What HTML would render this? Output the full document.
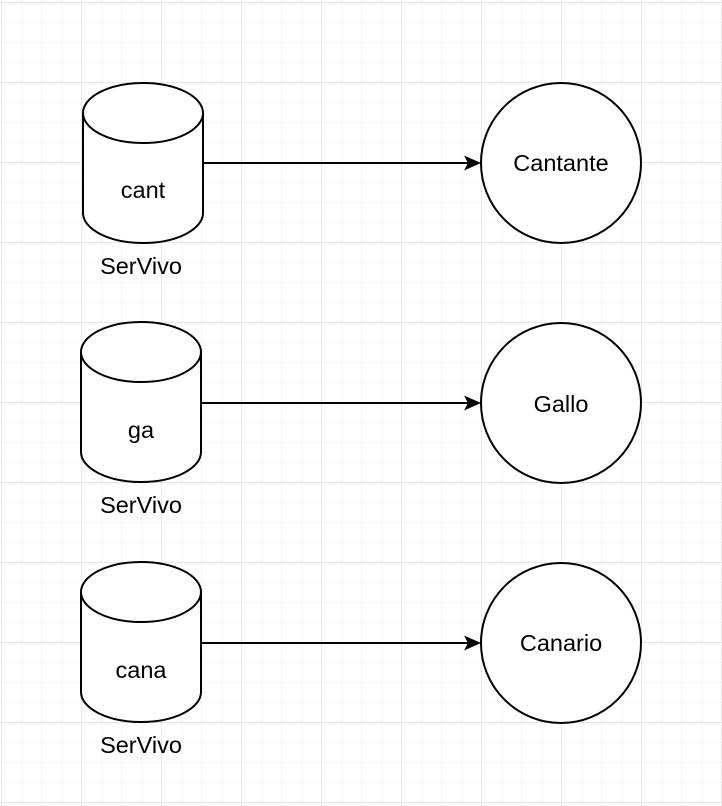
<!DOCTYPE html>
<html><head><style>
html,body{margin:0;padding:0;background:#fff}
svg{display:block}
text{font-family:"Liberation Sans",Helvetica,Arial,sans-serif;font-size:23.5px;fill:#000}
</style></head><body>
<svg width="722" height="806" xmlns="http://www.w3.org/2000/svg">
<defs>
<pattern id="minor" width="20" height="20" patternUnits="userSpaceOnUse" x="1" y="2">
<path d="M0 0H20M0 0V20" stroke="#ececec" stroke-width="1" fill="none"/>
</pattern>
<pattern id="major" width="80" height="80" patternUnits="userSpaceOnUse" x="1" y="2">
<path d="M0 0H80M0 0V80" stroke="#d0d0d0" stroke-width="1" fill="none"/>
</pattern>
</defs>
<rect width="722" height="806" fill="url(#minor)"/>
<rect width="722" height="806" fill="url(#major)"/>
<g fill="#fff" stroke="#000" stroke-width="2">
<path d="M83 113 A60 30 0 0 1 203 113 V213 A60 30 0 0 1 83 213 Z"/>
<path d="M83 113 A60 30 0 0 0 203 113" fill="none"/>
<path d="M81 352 A60 30 0 0 1 201 352 V452 A60 30 0 0 1 81 452 Z"/>
<path d="M81 352 A60 30 0 0 0 201 352" fill="none"/>
<path d="M81 592 A60 30 0 0 1 201 592 V692 A60 30 0 0 1 81 692 Z"/>
<path d="M81 592 A60 30 0 0 0 201 592" fill="none"/>
<circle cx="561" cy="163" r="80"/>
<circle cx="561" cy="403" r="80"/>
<circle cx="561" cy="643" r="80"/>
<line x1="203" y1="163" x2="470" y2="163"/>
<line x1="201" y1="403" x2="470" y2="403"/>
<line x1="201" y1="643" x2="470" y2="643"/>
</g>
<g fill="#000">
<path d="M481 163 L464 155.5 L468 163 L464 170.5 Z"/>
<path d="M481 403 L464 395.5 L468 403 L464 410.5 Z"/>
<path d="M481 643 L464 635.5 L468 643 L464 650.5 Z"/>
</g>
<g text-anchor="middle">
<text x="143" y="198">cant</text>
<text x="141" y="274">SerVivo</text>
<text x="141" y="438">ga</text>
<text x="141" y="513">SerVivo</text>
<text x="141" y="678">cana</text>
<text x="141" y="753">SerVivo</text>
<text x="561" y="171">Cantante</text>
<text x="561" y="412">Gallo</text>
<text x="561" y="651">Canario</text>
</g>
</svg>
</body></html>
